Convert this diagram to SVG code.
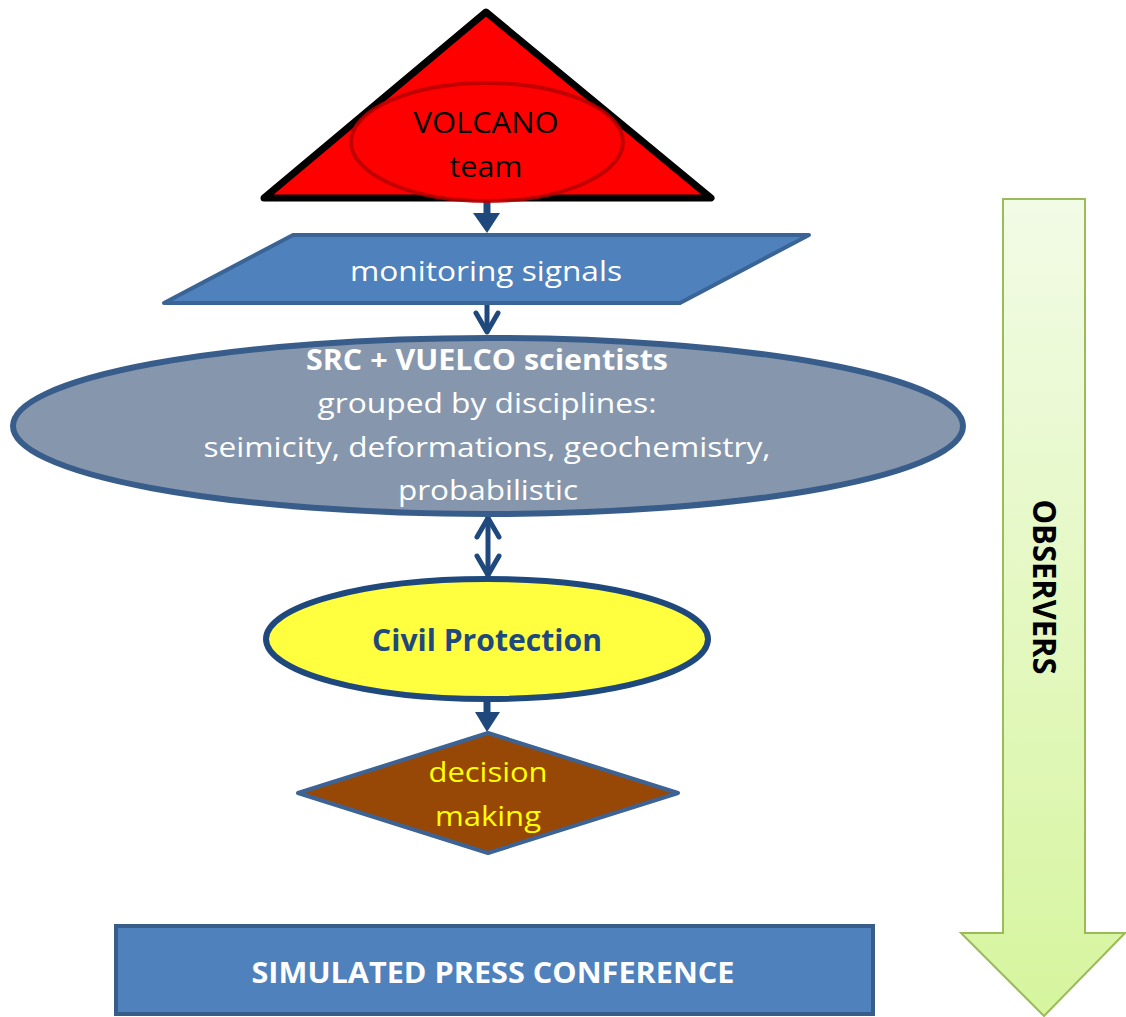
<svg xmlns="http://www.w3.org/2000/svg" width="1126" height="1017" viewBox="0 0 1126 1017">
  <defs>
    <linearGradient id="gObs" x1="0" y1="0" x2="0" y2="1">
      <stop offset="0" stop-color="#f2fbe6"/>
      <stop offset="1" stop-color="#d6f59e"/>
    </linearGradient>
    <style>
      text { font-family: "Open Sans", "Lato", sans-serif; text-anchor: middle; }
      .conn { stroke: #1f497d; fill: none; }
      .chev { stroke: #1f497d; stroke-width: 5; fill: none; stroke-linecap: round; stroke-linejoin: round; }
      .wt { fill: #ffffff; font-size: 28px; }
    </style>
  </defs>
  <rect width="1126" height="1017" fill="#ffffff"/>

  <g id="observers">
    <path d="M1003,199 L1085,199 L1085,933 L1125,933 L1044,1016 L961,933 L1003,933 Z" fill="url(#gObs)" stroke="#9bbb59" stroke-width="2"/>
    <text transform="translate(1044,587) rotate(90)" y="11" font-size="32" font-weight="bold" fill="#000000" textLength="175" lengthAdjust="spacingAndGlyphs">OBSERVERS</text>
  </g>

  <g id="connectors">
    <line class="conn" x1="487" y1="200" x2="487" y2="214" stroke-width="7"/>
    <path d="M473,213 L500,213 L487,233 Z" fill="#1f497d"/>
    <line class="conn" x1="487" y1="304" x2="487" y2="332" stroke-width="5"/>
    <path class="chev" d="M476,313 L487,332 L498,313"/>
    <line class="conn" x1="488" y1="517" x2="488" y2="576" stroke-width="5"/>
    <path class="chev" d="M477,537 L488,518 L499,537"/>
    <path class="chev" d="M477,556 L488,575 L499,556"/>
    <line class="conn" x1="487" y1="700" x2="487" y2="714" stroke-width="7"/>
    <path d="M475,712 L500,712 L487,732 Z" fill="#1f497d"/>
  </g>

  <g id="volcano">
    <path d="M486,12 L711,198 L264,198 Z" fill="#ff0000" stroke="#000000" stroke-width="7" stroke-linejoin="round"/>
    <ellipse cx="487" cy="142" rx="136" ry="59" fill="#ff0000" stroke="#b80000" stroke-opacity="0.85" stroke-width="4"/>
    <text x="486" y="133" font-size="30" fill="#000000" textLength="145" lengthAdjust="spacingAndGlyphs">VOLCANO</text>
    <text x="486" y="177" font-size="30" fill="#000000" textLength="73" lengthAdjust="spacingAndGlyphs">team</text>
  </g>

  <g id="monitoring">
    <path d="M293,235 L809,235 L680,303 L164,303 Z" fill="#4f81bd" stroke="#3a6396" stroke-width="4" stroke-linejoin="round"/>
    <text class="wt" x="486" y="281" textLength="272" lengthAdjust="spacingAndGlyphs">monitoring signals</text>
  </g>

  <g id="scientists">
    <ellipse cx="488" cy="426" rx="475" ry="88" fill="#8697ad" stroke="#385d8a" stroke-width="6"/>
    <text class="wt" x="487" y="370" font-weight="bold" textLength="362" lengthAdjust="spacingAndGlyphs">SRC + VUELCO scientists</text>
    <text class="wt" x="487" y="413" textLength="339" lengthAdjust="spacingAndGlyphs">grouped by disciplines:</text>
    <text class="wt" x="487" y="457" textLength="567" lengthAdjust="spacingAndGlyphs">seimicity, deformations, geochemistry,</text>
    <text class="wt" x="488" y="500" textLength="180" lengthAdjust="spacingAndGlyphs">probabilistic</text>
  </g>

  <g id="civil">
    <ellipse cx="487" cy="639" rx="221" ry="60" fill="#ffff40" stroke="#1f497d" stroke-width="6"/>
    <text x="487" y="651" font-size="30" font-weight="bold" fill="#1f497d" textLength="230" lengthAdjust="spacingAndGlyphs">Civil Protection</text>
  </g>

  <g id="decision">
    <path d="M488,733 L678,793 L488,853 L298,793 Z" fill="#974806" stroke="#3d6294" stroke-width="4" stroke-linejoin="round"/>
    <text x="488" y="782" font-size="28" fill="#ffff00" textLength="119" lengthAdjust="spacingAndGlyphs">decision</text>
    <text x="488" y="826" font-size="28" fill="#ffff00" textLength="106" lengthAdjust="spacingAndGlyphs">making</text>
  </g>

  <g id="press">
    <rect x="116" y="926" width="757" height="88" fill="#4f81bd" stroke="#385d8a" stroke-width="4"/>
    <text class="wt" x="493" y="983" font-weight="bold" textLength="483" lengthAdjust="spacingAndGlyphs">SIMULATED PRESS CONFERENCE</text>
  </g>
</svg>
